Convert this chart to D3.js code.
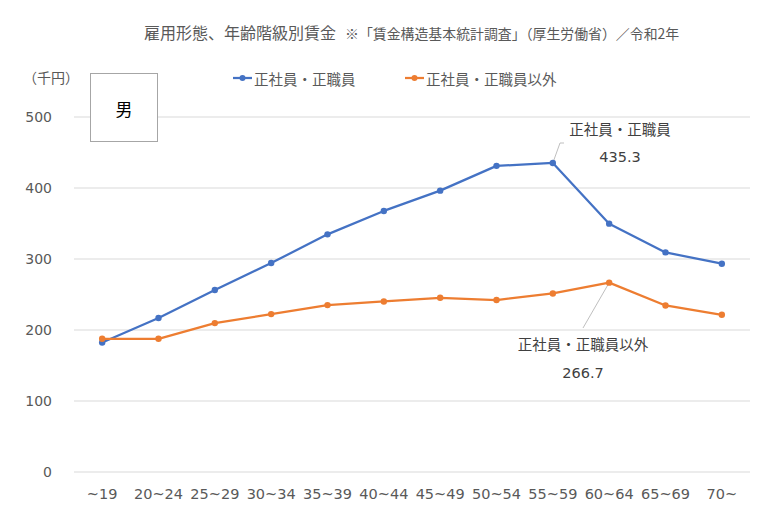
<!DOCTYPE html>
<html><head><meta charset="utf-8">
<script src="https://cdn.jsdelivr.net/npm/d3@7"></script>
<style>
html,body{margin:0;padding:0;background:#fff;}
svg{display:block;font-family:"Noto Sans CJK JP","Noto Sans",sans-serif;}
</style></head>
<body>
<svg id="c" width="780" height="529"></svg>
<script>
const categories = ["~19","20~24","25~29","30~34","35~39","40~44","45~49","50~54","55~59","60~64","65~69","70~"];
const regular = [182.4, 216.8, 256.3, 294.3, 334.7, 367.7, 396.3, 431.2, 435.3, 349.8, 309.3, 293.4];
const nonRegular = [187.6, 187.6, 209.7, 222.4, 235.1, 240.2, 245.4, 242.2, 251.5, 266.7, 234.6, 221.4];
const yTicks = [0, 100, 200, 300, 400, 500];
const seriesNames = ["正社員・正職員", "正社員・正職員以外"];
const colors = ["#4472C4", "#ED7D31"];

const numFont = "'DejaVu Sans',Verdana,sans-serif";
const svg = d3.select("#c");
const x = d3.scaleBand().domain(categories).range([74, 750]);
const y = d3.scaleLinear().domain([0, 500]).range([472, 117]);
const cx = d => x(d) + x.bandwidth() / 2;

// title
svg.append("text").attr("x", 144).attr("y", 39).attr("font-size", 16).attr("fill", "#595959").text("雇用形態、年齢階級別賃金");
svg.append("text").attr("x", 345).attr("y", 39).attr("font-size", 13.9).attr("fill", "#595959").text("※「賃金構造基本統計調査」（厚生労働省）／令和2年");

// gridlines
svg.append("g").selectAll("line").data(yTicks).join("line")
  .attr("x1", 74).attr("x2", 750).attr("y1", d => y(d)).attr("y2", d => y(d))
  .attr("stroke", "#d9d9d9").attr("stroke-width", 1);

// y axis
const yAxis = d3.axisLeft(y).tickValues(yTicks).tickSize(0).tickPadding(0);
const yg = svg.append("g").attr("transform", "translate(52,0)").call(yAxis);
yg.select(".domain").remove();
yg.selectAll("text").attr("font-size", 14).attr("fill", "#595959").attr("font-family", numFont).attr("dy", "0.35em");

svg.append("text").attr("x", 23).attr("y", 83).attr("font-size", 14).attr("fill", "#595959").text("（千円）");

// x axis
const xAxis = d3.axisBottom(x).tickSize(0).tickPadding(0);
const xg = svg.append("g").attr("transform", "translate(0,494)").call(xAxis);
xg.select(".domain").remove();
xg.selectAll("text").attr("font-size", 14.5).attr("fill", "#595959").attr("font-family", numFont).attr("dy", "0.35em");

// box 男
svg.append("rect").attr("x", 90.5).attr("y", 73.5).attr("width", 67).attr("height", 68)
  .attr("fill", "#fff").attr("stroke", "#a6a6a6").attr("stroke-width", 1);
svg.append("text").attr("x", 124).attr("y", 108).attr("text-anchor", "middle").attr("dominant-baseline", "central")
  .attr("font-size", 17).attr("fill", "#000").text("男");

// leader lines
svg.append("polyline").attr("points", `${cx("55~59")},${y(435.3)} 560,143 564,143`)
  .attr("fill", "none").attr("stroke", "#bfbfbf").attr("stroke-width", 1);
svg.append("line").attr("x1", cx("60~64")).attr("y1", y(266.7)).attr("x2", 583).attr("y2", 328)
  .attr("stroke", "#bfbfbf").attr("stroke-width", 1);

// lines
const line = d3.line().x((d, i) => cx(categories[i])).y(d => y(d));
[regular, nonRegular].forEach((s, k) => {
  svg.append("path").datum(s).attr("d", line).attr("fill", "none")
    .attr("stroke", colors[k]).attr("stroke-width", 2.25).attr("stroke-linejoin", "round");
  svg.append("g").selectAll("circle").data(s).join("circle")
    .attr("cx", (d, i) => cx(categories[i])).attr("cy", d => y(d)).attr("r", 3.2).attr("fill", colors[k]);
});

// legend
const legX = [233, 405];
seriesNames.forEach((n, k) => {
  svg.append("line").attr("x1", legX[k]).attr("x2", legX[k] + 19).attr("y1", 78).attr("y2", 78)
    .attr("stroke", colors[k]).attr("stroke-width", 2.25);
  svg.append("circle").attr("cx", legX[k] + 9.5).attr("cy", 78).attr("r", 3).attr("fill", colors[k]);
  svg.append("text").attr("x", legX[k] + 21).attr("y", 78).attr("dominant-baseline", "central")
    .attr("font-size", 14.5).attr("fill", "#595959").text(n);
});

// data labels
function dlabel(xc, y1, y2, name, val) {
  svg.append("text").attr("x", xc).attr("y", y1).attr("text-anchor", "middle").attr("dominant-baseline", "central")
    .attr("font-size", 14.5).attr("fill", "#404040").text(name);
  svg.append("text").attr("x", xc).attr("y", y2).attr("text-anchor", "middle").attr("dy", "0.35em")
    .attr("font-size", 14.5).attr("font-family", numFont).attr("fill", "#404040").text(val.toFixed(1));
}
dlabel(620, 128, 157, seriesNames[0], regular[8]);
dlabel(583, 343, 373, seriesNames[1], nonRegular[9]);
</script>
</body></html>
